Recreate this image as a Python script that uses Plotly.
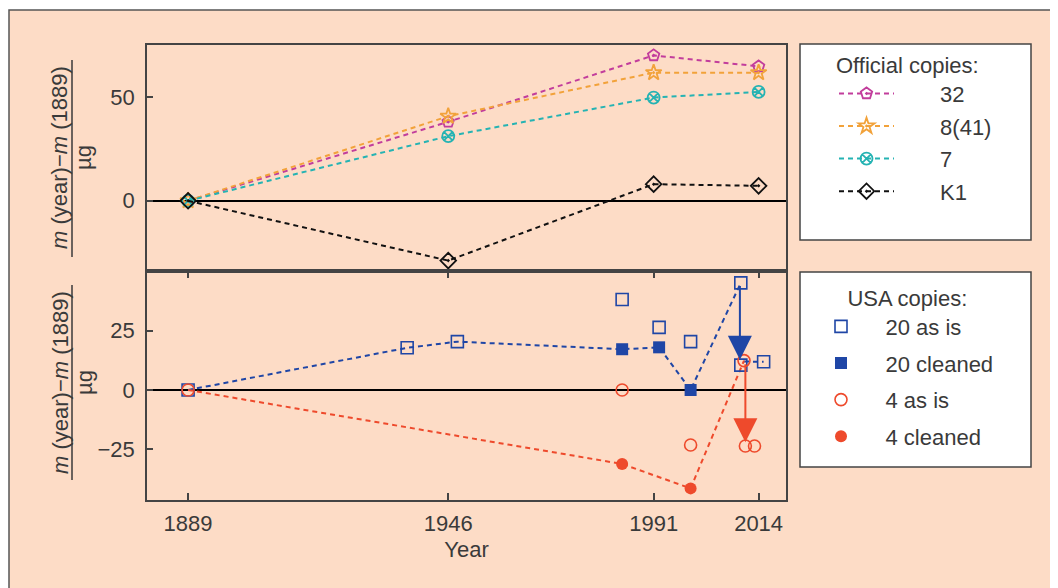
import plotly.graph_objects as go

# page is rendered with an 8px body margin: figure occupies page x>=8, y>=8
FW, FH = 1050, 580
OFF = 8

# ---------------- data ----------------
years_official = [1889, 1946, 1991, 2014]
off_32 = [0, 38.0, 70.0, 64.7]
off_8_41 = [0, 40.7, 61.7, 61.7]
off_7 = [0, 31.1, 49.7, 52.4]
off_K1 = [0, -28.8, 8.0, 7.2]

# USA copies: dashed paths
p20_x = [1889, 1937.0, 1948.0, 1984.1, 1992.2, 1999.1, 2010.1, None, 2010.8, 2015.1]
p20_y = [0, 17.8, 20.4, 17.2, 18.0, 0, 45.2, None, 12.0, 11.9]
p4_x = [1889, 1984.1, 1999.1, 2010.8]
p4_y = [0, -31.2, -41.5, 12.4]

# USA copies markers
c20_asis_x = [1889, 1937.0, 1948.0, 1984.1, 1992.2, 1999.1, 2010.1, 2010.1, 2015.1]
c20_asis_y = [0, 17.8, 20.4, 38.2, 26.4, 20.4, 45.2, 10.5, 11.9]
c20_clean_x = [1984.1, 1992.2, 1999.1]
c20_clean_y = [17.2, 18.0, 0]
c4_asis_x = [1889, 1984.1, 1999.1, 2010.8, 2011.1, 2013.1]
c4_asis_y = [0, 0, -23.2, 12.4, -23.6, -23.6]
c4_clean_x = [1984.1, 1999.1]
c4_clean_y = [-31.2, -41.5]

# cleaning arrows (year, from, to)
arrow20 = (2009.9, 44.5, 12.8)
arrow4 = (2011.1, 11.5, -22.0)

x_ticks = [1889, 1946, 1991, 2014]
y_top_ticks = [0, 50]
y_bot_ticks = [-25, 0, 25]

# ---------------- styles ----------------
MAG = "#c23d9c"
ORA = "#f2a23a"
TEA = "#25b3b3"
BLK = "#111111"
BLU = "#1f46a6"
RED = "#ee4a2c"
PEACH = "#fddcc6"
TXT = "#3a3a3a"
FONT = "Liberation Sans"
FS = 22
DASH = "5px,4px"
NB = "\u00a0"
TH = "\u2009"

fig = go.Figure()


def off_trace(name, y, color, symbol):
    fig.add_trace(go.Scatter(
        x=years_official, y=y, name=NB * 6 + TH + name, mode="lines+markers",
        line=dict(color=color, width=2, dash=DASH),
        marker=dict(symbol=symbol, size=12, color=color, line=dict(color=color, width=1.8)),
        xaxis="x", yaxis="y", legend="legend", legendgroup=name,
    ))


off_trace("32", off_32, MAG, "pentagon-open-dot")
off_trace("8(41)", off_8_41, ORA, "star-open-dot")
off_trace("7", off_7, TEA, "circle-x-open")
off_trace("K1", off_K1, BLK, "diamond-open-dot")

# dashed paths
fig.add_trace(go.Scatter(x=p20_x, y=p20_y, mode="lines", showlegend=False,
                         line=dict(color=BLU, width=2, dash=DASH), xaxis="x2", yaxis="y2",
                         hoverinfo="skip"))
fig.add_trace(go.Scatter(x=p4_x, y=p4_y, mode="lines", showlegend=False,
                         line=dict(color=RED, width=2, dash=DASH), xaxis="x2", yaxis="y2",
                         hoverinfo="skip"))

fig.add_trace(go.Scatter(x=c20_asis_x, y=c20_asis_y, mode="markers", name=NB * 4 + "20 as is",
                         marker=dict(symbol="square-open", size=12, color=BLU, line=dict(width=1.6)),
                         xaxis="x2", yaxis="y2", legend="legend2", legendgroup="a"))
fig.add_trace(go.Scatter(x=c20_clean_x, y=c20_clean_y, mode="markers", name=NB * 4 + "20 cleaned",
                         marker=dict(symbol="square", size=12, color=BLU),
                         xaxis="x2", yaxis="y2", legend="legend2", legendgroup="b"))
fig.add_trace(go.Scatter(x=c4_asis_x, y=c4_asis_y, mode="markers", name=NB * 4 + "4 as is",
                         marker=dict(symbol="circle-open", size=12, color=RED, line=dict(width=1.6)),
                         xaxis="x2", yaxis="y2", legend="legend2", legendgroup="c"))
fig.add_trace(go.Scatter(x=c4_clean_x, y=c4_clean_y, mode="markers", name=NB * 4 + "4 cleaned",
                         marker=dict(symbol="circle", size=12, color=RED),
                         xaxis="x2", yaxis="y2", legend="legend2", legendgroup="d"))


# ---------------- layout ----------------
def px_x(v):
    return (v - OFF) / FW


def px_y(v):
    return 1 - (v - OFF) / FH


font = dict(family=FONT, size=FS, color=TXT)
xdom = [px_x(147), px_x(786)]
axis_common = dict(showline=True, linecolor="#444444", linewidth=1.5,
                   showgrid=False, ticks="inside", tickcolor="#444444", tickwidth=1.5,
                   tickfont=font)

fig.update_layout(
    width=FW, height=FH, autosize=False,
    margin=dict(l=0, r=0, t=0, b=0),
    paper_bgcolor="white", plot_bgcolor="white",
    font=font,
    xaxis=dict(domain=xdom, range=[1880, 2020], anchor="y", showticklabels=False,
               ticks="", showline=True, linecolor="#444444", linewidth=1.5, mirror=True,
               showgrid=False, zeroline=False),
    yaxis=dict(domain=[px_y(271), px_y(45)], range=[-33.8, 75], tickvals=y_top_ticks,
               ticklen=6, zeroline=True, zerolinecolor="black", zerolinewidth=2,
               ticklabelstandoff=6, mirror=True, **axis_common),
    xaxis2=dict(domain=xdom, range=[1880, 2020], anchor="y2", tickvals=x_ticks,
                ticklen=7, zeroline=False, ticklabelstandoff=3, mirror="ticks",
                title=dict(text="Year", font=font, standoff=6),
                **axis_common),
    yaxis2=dict(domain=[px_y(500), px_y(271)], range=[-46.4, 50.2], tickvals=y_bot_ticks,
                ticklen=6, zeroline=True, zerolinecolor="black", zerolinewidth=2,
                ticklabelstandoff=6, mirror=True, **axis_common),
    legend=dict(x=px_x(834), y=px_y(44), xanchor="left", yanchor="top",
                bgcolor="rgba(0,0,0,0)", borderwidth=0, itemwidth=55,
                tracegroupgap=1, font=font,
                title=dict(text="Official copies:", font=font)),
    legend2=dict(x=px_x(821), y=px_y(277), xanchor="left", yanchor="top",
                 bgcolor="rgba(0,0,0,0)", borderwidth=0, itemwidth=30,
                 tracegroupgap=5, font=font,
                 title=dict(text=NB * 4 + "USA copies:", font=font)),
    showlegend=True,
)

shapes = [
    # peach frame
    dict(type="rect", xref="paper", yref="paper", x0=px_x(9), y0=-0.05, x1=1.05, y1=px_y(10),
         fillcolor=PEACH, line=dict(color="#555555", width=1.5), layer="below"),
    # legend boxes
    dict(type="rect", xref="paper", yref="paper", x0=px_x(800), x1=px_x(1031),
         y0=px_y(240), y1=px_y(44), fillcolor="white", line=dict(color="#444444", width=1.5),
         layer="below"),
    dict(type="rect", xref="paper", yref="paper", x0=px_x(800), x1=px_x(1031),
         y0=px_y(467), y1=px_y(272), fillcolor="white", line=dict(color="#444444", width=1.5),
         layer="below"),
    # fraction bars of the y titles
    dict(type="line", xref="paper", yref="paper", x0=px_x(72), x1=px_x(72),
         y0=px_y(60), y1=px_y(257), line=dict(color=TXT, width=1.5)),
    dict(type="line", xref="paper", yref="paper", x0=px_x(72), x1=px_x(72),
         y0=px_y(285), y1=px_y(480), line=dict(color=TXT, width=1.5)),
]
fig.update_layout(shapes=shapes)

num = "<i>m</i> (year)−<i>m</i> (1889)"
annotations = []
for yc in (158, 383):
    annotations.append(dict(xref="paper", yref="paper", x=px_x(60), y=px_y(yc), text=num,
                            textangle=-90, showarrow=False, font=font,
                            xanchor="center", yanchor="middle"))
    annotations.append(dict(xref="paper", yref="paper", x=px_x(84), y=px_y(yc), text="µg",
                            textangle=-90, showarrow=False, font=font,
                            xanchor="center", yanchor="middle"))

for (ax_, y0, y1), col in ((arrow20, BLU), (arrow4, RED)):
    annotations.append(dict(x=ax_, y=y1, ax=ax_, ay=y0, xref="x2", yref="y2", axref="x2", ayref="y2",
                            showarrow=True, arrowhead=2, arrowsize=2.4, arrowwidth=2,
                            arrowcolor=col, text=""))
fig.update_layout(annotations=annotations)

fig.write_html("out.html")
